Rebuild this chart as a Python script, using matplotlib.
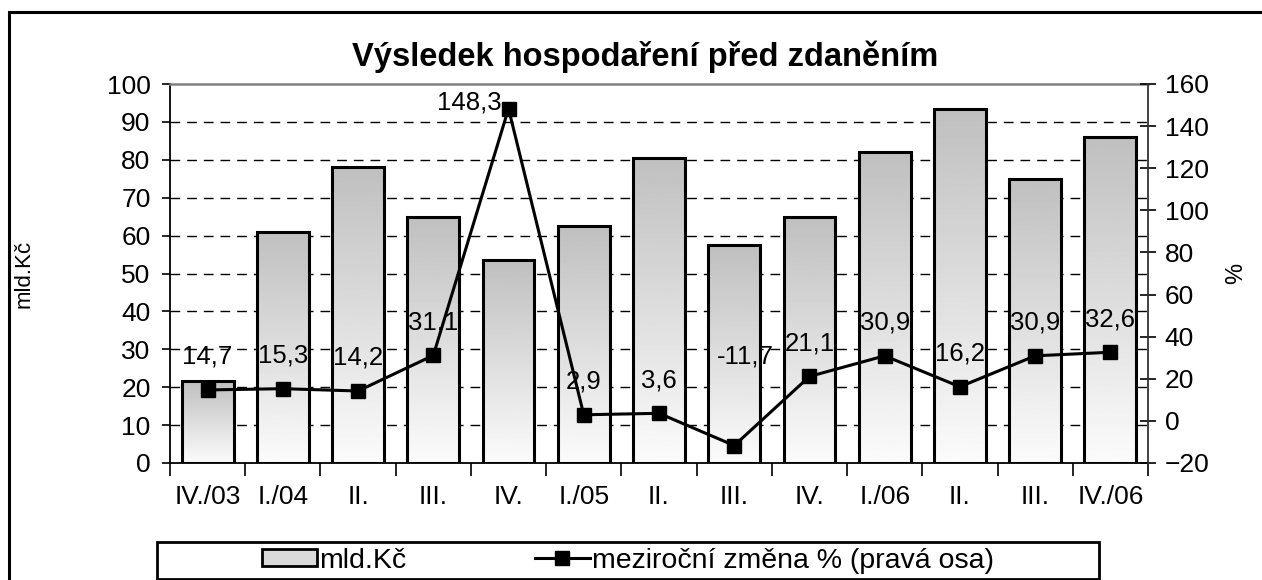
import numpy as np
import matplotlib
matplotlib.use("Agg")
import matplotlib.pyplot as plt
from matplotlib.patches import Rectangle
from matplotlib.lines import Line2D

plt.rcParams['font.family'] = ['Liberation Sans', 'DejaVu Sans']

# data
categories = ['IV./03', 'I./04', 'II.', 'III.', 'IV.', 'I./05', 'II.', 'III.',
              'IV.', 'I./06', 'II.', 'III.', 'IV./06']
profit = [21.6, 61.0, 78.0, 65.0, 53.5, 62.5, 80.5, 57.5, 65.0, 82.0, 93.5, 75.0, 86.0]
yoy_change = [14.7, 15.3, 14.2, 31.1, 148.3, 2.9, 3.6, -11.7, 21.1, 30.9, 16.2, 30.9, 32.6]

W, H = 1262, 580
fig = plt.figure(figsize=(W / 100, H / 100), dpi=100)

# outer frame (runs off the right/bottom edge like the source)
fig.patches.append(Rectangle((9 / W, -0.1), 1.2, 1 - 12 / H + 0.1,
                             transform=fig.transFigure, fill=False,
                             edgecolor='black', linewidth=2.2))

left, right, top, bottom = 170, 1148, 84, 463
ax = fig.add_axes([left / W, 1 - bottom / H, (right - left) / W, (bottom - top) / H])
ax2 = ax.twinx()

x = np.arange(len(categories))
bw = 0.69
fs = 19

# gradient bars
grad = np.linspace(0.985, 0.75, 256).reshape(-1, 1)
bars = ax.bar(x, profit, width=bw, color='none', edgecolor='black', linewidth=2.2, zorder=3)
for b in bars:
    x0, y0 = b.get_x(), b.get_y()
    im = ax.imshow(grad, cmap='gray', vmin=0, vmax=1, aspect='auto', origin='lower',
                   extent=(x0, x0 + b.get_width(), y0, y0 + b.get_height()), zorder=2)
    im.set_clip_path(b)

ax.set_xlim(-0.5, len(categories) - 0.5)
ax.set_ylim(0, 100)
ax.set_yticks(np.arange(0, 101, 10))
for v in range(10, 100, 10):
    ax.axhline(v, color='black', linewidth=1.0, dashes=(7, 5), zorder=1)

ax.set_xticks(np.arange(-0.5, len(categories), 1.0))
ax.set_xticklabels([])
ax.set_xticks(x, minor=True)
ax.set_xticklabels(categories, minor=True)
ax.tick_params(axis='x', which='major', length=9, width=1.2, direction='out')
ax.tick_params(axis='x', which='minor', length=0, pad=16, labelsize=fs)
ax.tick_params(axis='y', length=6, width=1.2, direction='out', labelsize=fs, pad=8)

ax.spines['top'].set_color('#808080')
ax.spines['top'].set_linewidth(1.8)
ax.spines['left'].set_linewidth(1.3)
ax.spines['bottom'].set_linewidth(1.3)
ax.spines['right'].set_visible(False)

# line on secondary axis
ax2.plot(x, yoy_change, color='black', linewidth=2.2, marker='s', markersize=10,
         markerfacecolor='black', zorder=5)
ax2.set_ylim(-20, 160)
ax2.set_yticks(np.arange(-20, 161, 20))
ax2.tick_params(axis='y', length=12, width=1.2, direction='inout', labelsize=fs, pad=6)
for s in ['top', 'left', 'bottom']:
    ax2.spines[s].set_visible(False)
ax2.spines['right'].set_linewidth(1.3)
ax2.spines['right'].set_color('#333333')

offsets = {4: (-39, 6), 7: (11, 89)}
for i, v in enumerate(yoy_change):
    dx, dy = offsets.get(i, (0, 33))
    ax2.annotate(f'{v:.1f}'.replace('.', ','), (x[i], v), xytext=(dx, dy),
                 textcoords='offset pixels', ha='center', va='center', fontsize=18.5)

ax.set_ylabel('mld.Kč', fontsize=16)
ax.yaxis.set_label_coords((35 - left) / (right - left), 0.5)
ax2.set_ylabel('%', fontsize=17)
ax2.yaxis.set_label_coords((1225 - left) / (right - left), 0.5)

fig.text(645 / W, 1 - 57 / H, 'Výsledek hospodaření před zdaněním', ha='center',
         va='center', fontsize=23.5, fontweight='bold')

# legend box
lx0, lx1, ly0, ly1 = 157, 1099, 542, 579
fig.patches.append(Rectangle((lx0 / W, 1 - ly1 / H), (lx1 - lx0) / W, (ly1 - ly0) / H,
                             transform=fig.transFigure, fill=False,
                             edgecolor='black', linewidth=2.0))
handles = [Rectangle((0, 0), 1, 1, facecolor='#d9d9d9', edgecolor='black', linewidth=2.0),
           Line2D([], [], color='black', linewidth=2.2, marker='s', markersize=10)]
fig.legend(handles, ['mld.Kč', 'meziroční změna % (pravá osa)'], loc='center',
           bbox_to_anchor=((lx0 + lx1) / 2 / W, 1 - (ly0 + ly1) / 2 / H), ncol=2,
           frameon=False, fontsize=20.5, handlelength=1.95, handletextpad=0.08,
           columnspacing=4.5, handleheight=0.5)

fig.savefig('out.png', dpi=100)
